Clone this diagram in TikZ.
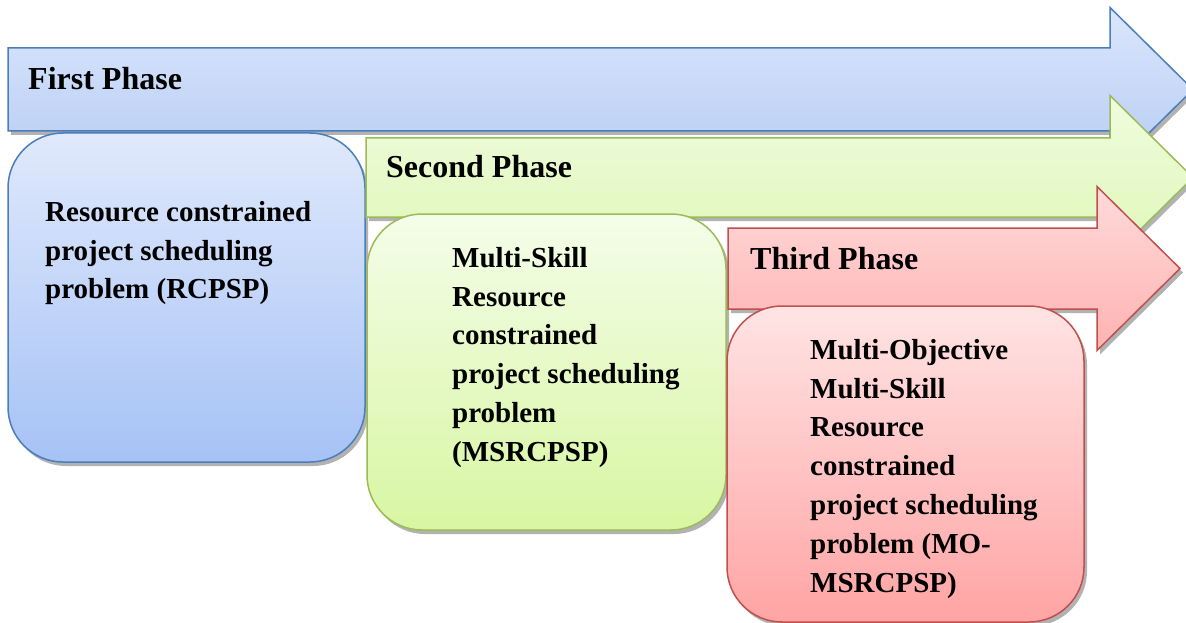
\documentclass[tikz,border=0pt]{standalone}
\usepackage{fontspec}
\setmainfont{Liberation Serif}
\usetikzlibrary{shadows}

\definecolor{blueline}{HTML}{4A7EBB}
\definecolor{greenline}{HTML}{9BBB59}
\definecolor{redline}{HTML}{C0504D}

\tikzset{
  shade/.style={drop shadow={shadow xshift=3pt, shadow yshift=-4pt, opacity=.3, fill=black}},
  bluephase/.style={shade, draw=blueline, line width=1.5pt, top color={rgb,255:red,219;green,230;blue,251}, bottom color={rgb,255:red,181;green,204;blue,245}},
  greenphase/.style={shade, draw=greenline, line width=1.5pt, top color={rgb,255:red,240;green,252;blue,221}, bottom color={rgb,255:red,222;green,247;blue,184}},
  redphase/.style={shade, draw=redline, line width=1.5pt, top color={rgb,255:red,255;green,218;blue,218}, bottom color={rgb,255:red,255;green,178;blue,178}},
  bluebox/.style={shade, draw=blueline, line width=1.5pt, rounded corners=55pt, top color={rgb,255:red,224;green,233;blue,252}, bottom color={rgb,255:red,166;green,194;blue,245}},
  greenbox/.style={shade, draw=greenline, line width=1.5pt, rounded corners=55pt, top color={rgb,255:red,244;green,253;blue,233}, bottom color={rgb,255:red,216;green,246;blue,162}},
  redbox/.style={shade, draw=redline, line width=1.5pt, rounded corners=55pt, top color={rgb,255:red,255;green,228;blue,228}, bottom color={rgb,255:red,255;green,164;blue,164}},
  phasetext/.style={font=\bfseries\fontsize{32}{38}\selectfont, anchor=base west, inner sep=0pt},
  boxtext/.style={font=\bfseries\fontsize{29}{38.8}\selectfont, align=left, anchor=north west, inner sep=0pt}
}

% arrow with flat body and 45 degree head: #1 style, #2 left x, #3 top y, #4 bottom y, #5 head x
\newcommand{\phasearrow}[5]{%
  \path[#1] (#2,#3) -- (#5,#3) -- (#5,{(#3+#4)/2-82}) -- ({#5+83},{(#3+#4)/2})
    -- (#5,{(#3+#4)/2+82}) -- (#5,#4) -- (#2,#4) -- cycle;}

\begin{document}
\begin{tikzpicture}[x=1pt, y=-1pt, line join=miter]
  \useasboundingbox[fill=white] (0,0) rectangle (1186,623);

  % first phase
  \phasearrow{bluephase}{8}{48}{131}{1110}
  \node[phasetext] (first) at (28,90) {First Phase};
  \path[bluebox] (8,133) rectangle (365,462);
  \node[boxtext] (rcpsp) at (45,201) {Resource constrained\\project scheduling\\problem (RCPSP)};

  % second phase
  \phasearrow{greenphase}{366}{138}{217}{1110}
  \node[phasetext] (second) at (386,177) {Second Phase};
  \path[greenbox] (367,214) rectangle (726,530);
  \node[boxtext] (msrcpsp) at (452,247) {Multi-Skill\\Resource\\constrained\\project scheduling\\problem\\(MSRCPSP)};

  % third phase
  \phasearrow{redphase}{728}{228}{309}{1097}
  \node[phasetext] (third) at (750,269) {Third Phase};
  \path[redbox] (727,306) rectangle (1084,622);
  \node[boxtext] (mo) at (810,339) {Multi-Objective\\Multi-Skill\\Resource\\constrained\\project scheduling\\problem (MO-\\MSRCPSP)};
\end{tikzpicture}
\end{document}
